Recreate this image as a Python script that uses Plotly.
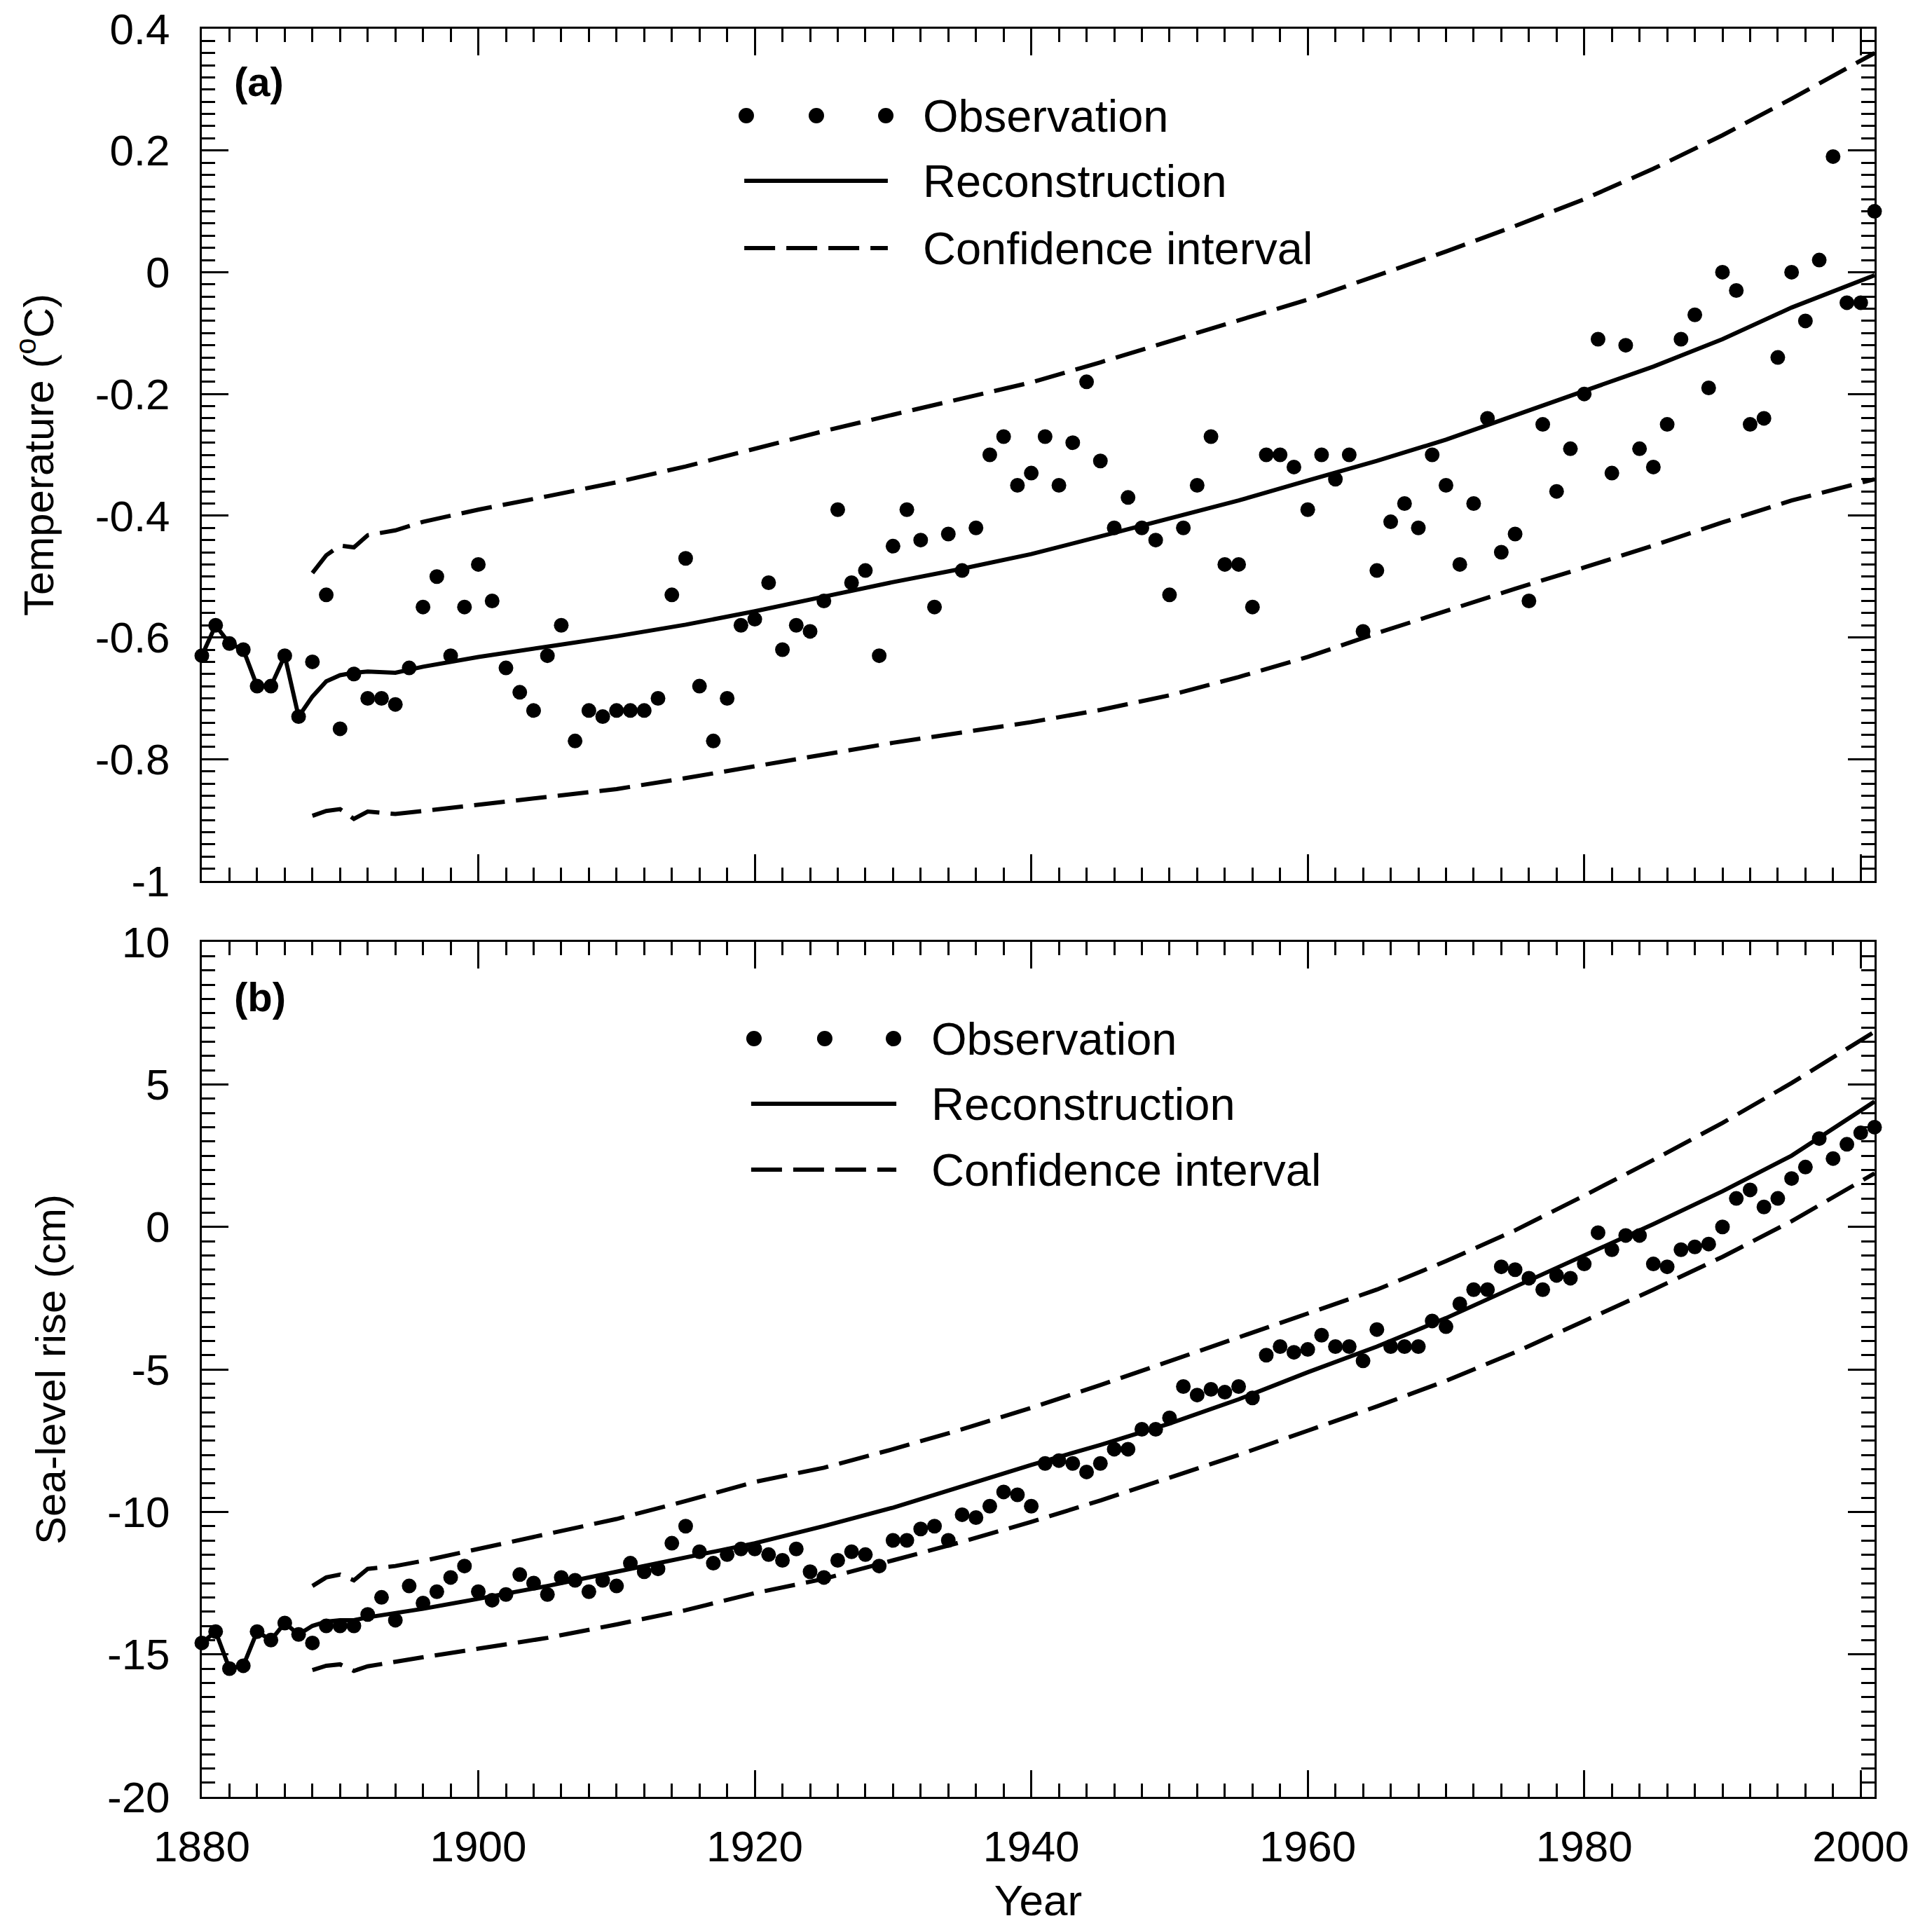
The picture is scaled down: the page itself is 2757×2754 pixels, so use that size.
import plotly.graph_objects as go
from plotly.subplots import make_subplots

# observations, one per year 1880-2001
years = list(range(1880, 2002))

temp_obs = [
    -0.63, -0.58, -0.61, -0.62, -0.68, -0.68, -0.63, -0.73, -0.64, -0.53,  # 1880s
    -0.75, -0.66, -0.70, -0.70, -0.71, -0.65, -0.55, -0.50, -0.63, -0.55,  # 1890s
    -0.48, -0.54, -0.65, -0.69, -0.72, -0.63, -0.58, -0.77, -0.72, -0.73,  # 1900s
    -0.72, -0.72, -0.72, -0.70, -0.53, -0.47, -0.68, -0.77, -0.70, -0.58,  # 1910s
    -0.57, -0.51, -0.62, -0.58, -0.59, -0.54, -0.39, -0.51, -0.49, -0.63,  # 1920s
    -0.45, -0.39, -0.44, -0.55, -0.43, -0.49, -0.42, -0.30, -0.27, -0.35,  # 1930s
    -0.33, -0.27, -0.35, -0.28, -0.18, -0.31, -0.42, -0.37, -0.42, -0.44,  # 1940s
    -0.53, -0.42, -0.35, -0.27, -0.48, -0.48, -0.55, -0.30, -0.30, -0.32,  # 1950s
    -0.39, -0.30, -0.34, -0.30, -0.59, -0.49, -0.41, -0.38, -0.42, -0.30,  # 1960s
    -0.35, -0.48, -0.38, -0.24, -0.46, -0.43, -0.54, -0.25, -0.36, -0.29,  # 1970s
    -0.20, -0.11, -0.33, -0.12, -0.29, -0.32, -0.25, -0.11, -0.07, -0.19,  # 1980s
    0.00, -0.03, -0.25, -0.24, -0.14, 0.00, -0.08, 0.02, 0.19, -0.05,  # 1990s
    -0.05, 0.10,
]

sea_obs = [
    -14.6, -14.2, -15.5, -15.4, -14.2, -14.5, -13.9, -14.3, -14.6, -14.0,
    -14.0, -14.0, -13.6, -13.0, -13.8, -12.6, -13.2, -12.8, -12.3, -11.9,
    -12.8, -13.1, -12.9, -12.2, -12.5, -12.9, -12.3, -12.4, -12.8, -12.4,
    -12.6, -11.8, -12.1, -12.0, -11.1, -10.5, -11.4, -11.8, -11.5, -11.3,
    -11.3, -11.5, -11.7, -11.3, -12.1, -12.3, -11.7, -11.4, -11.5, -11.9,
    -11.0, -11.0, -10.6, -10.5, -11.0, -10.1, -10.2, -9.8, -9.3, -9.4,
    -9.8, -8.3, -8.2, -8.3, -8.6, -8.3, -7.8, -7.8, -7.1, -7.1,
    -6.7, -5.6, -5.9, -5.7, -5.8, -5.6, -6.0, -4.5, -4.2, -4.4,
    -4.3, -3.8, -4.2, -4.2, -4.7, -3.6, -4.2, -4.2, -4.2, -3.3,
    -3.5, -2.7, -2.2, -2.2, -1.4, -1.5, -1.8, -2.2, -1.7, -1.8,
    -1.3, -0.2, -0.8, -0.3, -0.3, -1.3, -1.4, -0.8, -0.7, -0.6,
    0.0, 1.0, 1.3, 0.7, 1.0, 1.7, 2.1, 3.1, 2.4, 2.9,
    3.3, 3.5,
]

# reconstruction follows the observations up to 1887, then the model curve
n_spinup = 8
model_years = [1888, 1889, 1890, 1891, 1892, 1894, 1896, 1900, 1905, 1910, 1915, 1920, 1925, 1930,
               1935, 1940, 1945, 1950, 1955, 1960, 1965, 1970, 1975, 1980, 1985, 1990, 1995, 2001]

temp_recon = [-0.697, -0.672, -0.662, -0.658, -0.656, -0.658, -0.648, -0.632, -0.615, -0.598, -0.579,
              -0.557, -0.533, -0.509, -0.487, -0.463, -0.434, -0.405, -0.375, -0.342, -0.31, -0.275,
              -0.235, -0.195, -0.155, -0.11, -0.058, -0.005]
temp_upper = [-0.494, -0.465, -0.449, -0.452, -0.432, -0.424, -0.41, -0.39, -0.368, -0.345, -0.319,
              -0.29, -0.261, -0.234, -0.208, -0.181, -0.148, -0.113, -0.079, -0.045, -0.006, 0.034,
              0.076, 0.12, 0.17, 0.225, 0.285, 0.36]
temp_lower = [-0.893, -0.885, -0.882, -0.898, -0.886, -0.89, -0.885, -0.875, -0.863, -0.849, -0.831,
              -0.812, -0.792, -0.773, -0.756, -0.739, -0.719, -0.695, -0.665, -0.632, -0.593, -0.556,
              -0.52, -0.485, -0.449, -0.411, -0.375, -0.34]

sea_recon = [-14.0, -13.85, -13.8, -13.8, -13.7, -13.55, -13.4, -13.05, -12.6, -12.1, -11.6, -11.1,
             -10.5, -9.85, -9.1, -8.35, -7.65, -6.9, -6.05, -5.1, -4.2, -3.2, -2.1, -1.0, 0.1, 1.25,
             2.5, 4.4]
sea_upper = [-12.6, -12.3, -12.2, -12.4, -12.0, -11.9, -11.72, -11.3, -10.8, -10.25, -9.62, -8.95,
             -8.45, -7.8, -7.1, -6.35, -5.55, -4.72, -3.88, -3.05, -2.2, -1.2, -0.12, 1.1, 2.35, 3.65,
             5.05, 6.85]
sea_lower = [-15.55, -15.4, -15.35, -15.58, -15.42, -15.25, -15.1, -14.8, -14.42, -13.95, -13.45,
             -12.85, -12.35, -11.7, -11.05, -10.35, -9.6, -8.8, -8.0, -7.15, -6.3, -5.4, -4.4, -3.3,
             -2.2, -1.05, 0.2, 1.88]

year_ticks = [1880, 1900, 1920, 1940, 1960, 1980, 2000]
temp_ticks = [0.4, 0.2, 0, -0.2, -0.4, -0.6, -0.8, -1]
temp_tick_text = ["0.4", "0.2", "0", "-0.2", "-0.4", "-0.6", "-0.8", "-1"]
sea_ticks = [10, 5, 0, -5, -10, -15, -20]
sea_tick_text = ["10", "5", "0", "-5", "-10", "-15", "-20"]

legend_labels = ["Observation", "Reconstruction", "Confidence interval"]

FONT = "Liberation Sans, Arial, sans-serif"
DASH = "44px,16px"
LW = 6

fig = make_subplots(rows=2, cols=1)

panels = [
    (1, temp_obs, temp_recon, temp_upper, temp_lower),
    (2, sea_obs, sea_recon, sea_upper, sea_lower),
]
for row, obs, recon, upper, lower in panels:
    fig.add_trace(go.Scatter(x=model_years, y=upper, mode="lines",
                             line=dict(color="black", width=LW, dash=DASH)), row=row, col=1)
    fig.add_trace(go.Scatter(x=model_years, y=lower, mode="lines",
                             line=dict(color="black", width=LW, dash=DASH)), row=row, col=1)
    fig.add_trace(go.Scatter(x=years[:n_spinup] + model_years, y=obs[:n_spinup] + recon, mode="lines",
                             line=dict(color="black", width=LW)), row=row, col=1)
    fig.add_trace(go.Scatter(x=years, y=obs, mode="markers", cliponaxis=False,
                             marker=dict(color="black", size=21)), row=row, col=1)

axis_style = dict(showline=True, linecolor="black", linewidth=3, mirror="allticks",
                  ticks="inside", ticklen=38, tickwidth=2.5, tickcolor="black",
                  showgrid=False, zeroline=False, automargin=False, ticklabeloverflow="allow",
                  tickfont=dict(family=FONT, size=62, color="black"))

fig.update_xaxes(range=[1880, 2001], tickmode="array", tickvals=year_ticks,
                 ticktext=[str(y) for y in year_ticks], ticklabelstandoff=15,
                 minor=dict(tick0=1880, dtick=2, ticks="inside", ticklen=19, tickwidth=2.5,
                            tickcolor="black", showgrid=False),
                 **axis_style)
fig.update_xaxes(showticklabels=False, row=1, col=1)
fig.update_xaxes(title=dict(text="Year", font=dict(family=FONT, size=62, color="black"), standoff=27),
                 row=2, col=1)

fig.update_yaxes(range=[-1, 0.4], tickmode="array", tickvals=temp_ticks, ticktext=temp_tick_text,
                 ticklabelstandoff=30,
                 minor=dict(tick0=0, dtick=0.02, ticks="inside", ticklen=19, tickwidth=2.5,
                            tickcolor="black", showgrid=False),
                 title=dict(text="Temperature (<sup>o</sup>C)", font=dict(family=FONT, size=60, color="black"),
                            standoff=40),
                 row=1, col=1, **axis_style)
fig.update_yaxes(range=[-20, 10], tickmode="array", tickvals=sea_ticks, ticktext=sea_tick_text,
                 ticklabelstandoff=30,
                 minor=dict(tick0=0, dtick=0.5, ticks="inside", ticklen=19, tickwidth=2.5,
                            tickcolor="black", showgrid=False),
                 title=dict(text="Sea-level rise (cm)", font=dict(family=FONT, size=60, color="black"),
                            standoff=40),
                 row=2, col=1, **axis_style)

fig.update_layout(yaxis=dict(domain=[0.518, 1.0]), yaxis2=dict(domain=[0.0, 0.4835]))

# in-panel legends and panel letters
legend_pos = {
    # xref suffix: (dot xs, line x0, line x1, text x, y rows, letter, letter y)
    "": ([0.3255, 0.3674, 0.4089], 0.3243, 0.4101, 0.4302, [0.898, 0.8215, 0.7426], "(a)", 0.938),
    "2": ([0.3301, 0.3724, 0.4135], 0.3284, 0.4152, 0.4353, [0.8869, 0.8107, 0.7336], "(b)", 0.936),
}
for sfx, (dots, lx0, lx1, tx, ys, letter, ly) in legend_pos.items():
    xr, yr = "x%s domain" % sfx, "y%s domain" % sfx
    for dx in dots:
        fig.add_shape(type="circle", xref=xr, yref=yr, xsizemode="pixel", ysizemode="pixel",
                      xanchor=dx, yanchor=ys[0], x0=-11, x1=11, y0=-11, y1=11,
                      fillcolor="black", line=dict(width=0))
    fig.add_shape(type="line", xref=xr, yref=yr, x0=lx0, x1=lx1, y0=ys[1], y1=ys[1],
                  line=dict(color="black", width=LW))
    fig.add_shape(type="line", xref=xr, yref=yr, x0=lx0, x1=lx1, y0=ys[2], y1=ys[2],
                  line=dict(color="black", width=LW, dash=DASH))
    for label, yy in zip(legend_labels, ys):
        fig.add_annotation(text=label, xref=xr, yref=yr, x=tx, y=yy, xanchor="left", yanchor="middle",
                           showarrow=False, font=dict(family=FONT, size=65, color="black"))
    fig.add_annotation(text="<b>%s</b>" % letter, xref=xr, yref=yr, x=0.0184, y=ly, xanchor="left",
                       yanchor="middle", showarrow=False, font=dict(family=FONT, size=58, color="black"))

# the page body adds an 8px offset, so the figure is 16px smaller and margins shifted
fig.update_layout(width=2741, height=2738, showlegend=False,
                  margin=dict(l=280, r=74, t=33, b=182, autoexpand=False),
                  paper_bgcolor="white", plot_bgcolor="white",
                  font=dict(family=FONT, color="black"))

fig.write_html("out.html", config={"displayModeBar": False})
